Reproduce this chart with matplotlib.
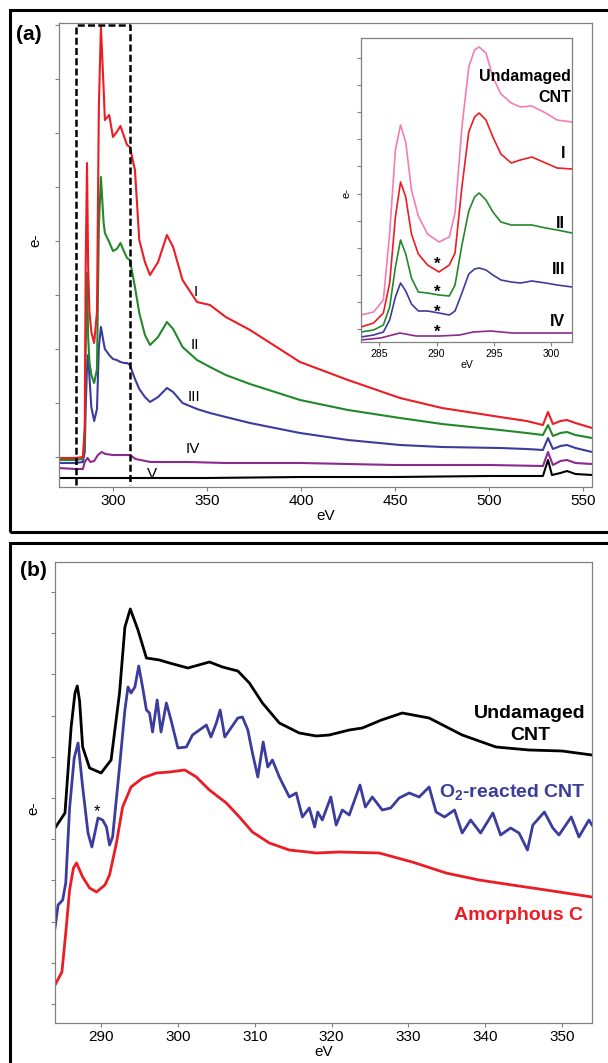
import matplotlib
matplotlib.use("Agg")
import matplotlib.pyplot as plt
from matplotlib.patches import Rectangle

plt.rcParams['font.family'] = ['Liberation Sans', 'DejaVu Sans']
plt.rcParams['mathtext.fontset'] = 'custom'
plt.rcParams['mathtext.rm'] = 'Liberation Sans'
plt.rcParams['mathtext.bf'] = 'Liberation Sans:bold'

# ---------------- Panel (a): main spectra ----------------
energy_a = [271, 280, 284, 285, 285.5, 286.2, 286.8, 287.5, 288.5, 290,
            291.5, 292.5, 293.6, 295, 295.7, 298, 300, 302, 304, 306,
            307.5, 309, 311.7, 314, 317, 319.7, 324, 328.7, 332, 337,
            344.7, 351.6, 360, 372.9, 399.5, 425, 452.7, 475, 505.9, 520,
            528.7, 531.4, 534, 538, 541.5, 546, 554.8]
sig_I = [29, 29, 30, 60, 220, 324, 220, 175, 155, 144,
         175, 380, 460, 400, 367, 372, 350, 355, 361, 350,
         342, 340, 317, 247, 225, 212, 225, 252, 240, 207,
         185, 182, 170, 157, 125, 107, 89, 79, 70, 66,
         62, 75, 63, 66, 67, 64, 59]
sig_II = [27, 27, 28, 45, 140, 214, 150, 125, 112, 104,
          118, 260, 310, 265, 254, 245, 236, 238, 244, 235,
          229, 227, 200, 174, 152, 142, 150, 165, 158, 140,
          127, 120, 112, 103, 87, 77, 69, 63, 57, 54,
          52, 62, 51, 54, 55, 52, 49]
sig_III = [24, 24, 25, 35, 80, 120, 132, 110, 80, 66,
           78, 140, 160, 145, 138, 132, 128, 127, 125, 124,
           124, 122, 108, 98, 90, 85, 90, 99, 95, 84,
           78, 74, 70, 64, 54, 47, 42, 40, 39, 38,
           37, 49, 38, 41, 42, 39, 35]
energy_IV = [271, 280, 284, 285, 286.5, 288, 290, 292, 294, 296, 300, 305, 309,
             312, 320, 340, 360, 400, 450, 500, 528.7, 531.4, 534, 538, 541.5,
             546, 554.8]
sig_IV = [19, 18, 18, 25, 29, 25, 26, 32, 35, 33, 32, 32, 32,
          28, 25, 25, 24, 24, 22, 22, 21, 35, 22, 26, 27,
          24, 23]
energy_V = [271, 300, 350, 400, 450, 500, 528.7, 531.4, 533.5, 538, 541.5, 546, 554.8]
sig_V = [9, 9, 9, 10, 10, 11, 11, 27, 12, 14, 16, 13, 12]

a_xticks = [300, 350, 400, 450, 500, 550]
a_labels = ['I', 'II', 'III', 'IV', 'V']

# ---------------- Panel (a): inset ----------------
energy_in = [283.4, 284.5, 285.35, 285.9, 286.4, 286.85, 287.3, 287.8, 288.4, 289.2,
             290.2, 291.1, 291.6, 292.2, 292.8, 293.3, 293.7, 294.3, 294.9, 295.6,
             296.5, 297.3, 298.3, 299.5, 300.5, 301.8]
in_undamaged = [27, 30, 42, 109, 192, 217, 200, 152, 126, 108,
                100, 105, 129, 215, 275, 292, 295, 289, 265, 248,
                239, 235, 236, 229, 222, 220]
in_I = [15, 19, 29, 59, 125, 160, 145, 108, 88, 77,
        70, 77, 89, 155, 210, 225, 229, 222, 205, 188,
        179, 182, 185, 179, 174, 173]
in_II = [10, 12, 17, 35, 75, 102, 88, 64, 50, 49,
         47, 46, 57, 97, 131, 145, 149, 142, 130, 120,
         117, 117, 117, 114, 112, 109]
in_III = [5, 7, 10, 22, 45, 59, 51, 38, 31, 31,
          29, 27, 31, 49, 68, 73, 74, 72, 67, 62,
          60, 59, 61, 59, 57, 55]
energy_in_IV = [283.4, 285.1, 286.8, 288.2, 290.3, 292.0, 293.2, 294.7, 296.6, 298.9, 301.8]
in_IV = [2, 4, 9, 6, 6, 7, 10, 11, 9, 9, 9]
in_xticks = [285, 290, 295, 300]

# ---------------- Panel (b) ----------------
energy_cnt = [284.0, 285.3, 286.1, 286.6, 286.9, 287.2, 287.6, 288.5, 290.0, 291.3,
              292.4, 293.1, 293.8, 294.8, 295.9, 297.6, 298.9, 301.3, 304.1, 305.8,
              307.8, 309.3, 311.0, 313.2, 315.8, 318.0, 319.7, 322.3, 324.0, 326.5,
              329.2, 332.7, 337.0, 341.4, 345.7, 350.0, 353.9]
sig_cnt = [195, 210, 296, 330, 337, 322, 276, 255, 250, 263,
           330, 396, 414, 393, 365, 363, 360, 355, 361, 356,
           352, 340, 320, 300, 290, 287, 288, 293, 295, 303,
           310, 305, 288, 276, 273, 272, 268]
energy_o2 = [284.0, 284.4, 285.0, 285.4, 285.9, 286.5, 287.0, 287.6, 288.3, 288.8,
             289.6, 290.2, 290.7, 291.1, 291.5, 292.4, 293.1, 293.5, 293.9, 294.4,
             294.9, 295.4, 295.9, 296.3, 296.7, 297.3, 297.8, 298.5, 299.1, 300.0,
             301.1, 301.9, 302.8, 303.7, 304.3, 305.0, 305.5, 306.1, 306.9, 307.8,
             308.4, 309.1, 309.7, 310.4, 311.1, 311.7, 312.3, 313.2, 314.5, 315.4,
             316.2, 317.1, 317.8, 318.2, 318.8, 319.9, 320.6, 321.4, 322.3, 323.7,
             324.4, 325.3, 326.6, 327.7, 328.8, 330.1, 331.4, 332.7, 333.6, 334.7,
             336.0, 337.0, 338.1, 339.4, 341.0, 342.0, 343.3, 344.4, 345.5, 346.2,
             347.7, 348.8, 349.6, 351.2, 352.2, 353.5, 353.9]
sig_o2 = [95, 118, 123, 140, 215, 265, 280, 236, 190, 176,
          205, 203, 196, 178, 186, 256, 313, 336, 330, 336,
          357, 336, 313, 310, 291, 323, 291, 320, 303, 275,
          276, 288, 293, 298, 286, 300, 313, 286, 295, 305,
          306, 293, 270, 246, 281, 256, 263, 246, 226, 230,
          206, 215, 196, 211, 203, 226, 198, 213, 208, 238,
          216, 226, 213, 215, 225, 230, 226, 236, 211, 206,
          213, 190, 203, 190, 210, 188, 195, 190, 173, 198,
          211, 195, 188, 206, 186, 203, 198]
energy_am = [284.0, 284.9, 285.4, 285.9, 286.4, 286.8, 287.6, 288.5, 289.4, 290.5,
             291.1, 292.0, 292.8, 293.9, 295.4, 297.2, 298.9, 300.9, 302.4, 304.1,
             306.3, 308.0, 309.7, 311.9, 314.5, 318.0, 321.0, 326.2, 330.5, 334.9,
             339.2, 343.5, 347.9, 353.9]
sig_am = [38, 51, 90, 133, 155, 160, 146, 135, 131, 138,
          148, 180, 216, 236, 245, 250, 251, 253, 246, 233,
          220, 206, 191, 180, 173, 170, 171, 170, 161, 150,
          143, 138, 133, 126]
b_xticks = [290, 300, 310, 320, 330, 340, 350]

# colours
C_RED = '#ec1c24'
C_GREEN = '#23882a'
C_BLUE = '#3c3c9e'
C_PURPLE = '#8a2a8c'
C_PINK = '#f47cb4'
C_SPINE = '#808080'

W, H = 608, 1063
fig = plt.figure(figsize=(W / 100, H / 100), dpi=100)


def rect(l, t, r, b):
    return [l / W, 1 - b / H, (r - l) / W, (b - t) / H]


def style(ax, size):
    for s in ax.spines.values():
        s.set_color(C_SPINE)
        s.set_linewidth(0.9)
    ax.tick_params(direction='out', length=3, width=0.8, color=C_SPINE,
                   labelsize=size, pad=2)
    ax.tick_params(axis='y', labelleft=False)


# panel frames
fig.patches.append(Rectangle((10 / W, 1 - 532 / H), 620 / W, 522 / H, fill=False,
                             lw=2.2, ec='black', transform=fig.transFigure))
fig.patches.append(Rectangle((10 / W, -0.05), 620 / W, 1 - 543 / H + 0.05, fill=False,
                             lw=2.2, ec='black', transform=fig.transFigure))

# ---- panel (a) main
ax = fig.add_axes(rect(59, 23, 592, 487))
ax.plot(energy_V, sig_V, color='black', lw=1.5)
ax.plot(energy_IV, sig_IV, color=C_PURPLE, lw=1.5)
ax.plot(energy_a, sig_III, color=C_BLUE, lw=1.5)
ax.plot(energy_a, sig_II, color=C_GREEN, lw=1.5)
ax.plot(energy_a, sig_I, color=C_RED, lw=1.5)
ax.set_xlim(271.3, 554.8)
ax.set_ylim(0, 464)
ax.set_xticks(a_xticks)
ax.set_yticks([30 + 54 * k for k in range(9)])
style(ax, 11)
ax.set_xlabel('eV', fontsize=11, labelpad=1)
box_x0, box_x1, box_y0, box_y1 = 280.3, 309.0, 2, 462
ax.plot([box_x0, box_x0, box_x1, box_x1], [box_y0, box_y1, box_y1, box_y0],
        color='black', lw=1.8, ls=(0, (2.8, 1.3)), clip_on=False)
label_pos_a = [(344.1, 195), (343.6, 142), (343.1, 90), (342.6, 38), (320.7, 13)]
for lab, (lx, ly) in zip(a_labels, label_pos_a):
    ax.text(lx, ly, lab, fontsize=11, ha='center', va='center')
fig.text(35 / W, 1 - 240 / H, 'e-', rotation=90, fontsize=11, ha='center', va='center')
fig.text(29 / W, 1 - 34 / H, '(a)', fontsize=15, fontweight='bold', ha='center', va='center')

# ---- inset
ai = fig.add_axes(rect(361, 38, 572, 342))
ai.plot(energy_in_IV, in_IV, color=C_PURPLE, lw=1.2)
ai.plot(energy_in, in_III, color=C_BLUE, lw=1.2)
ai.plot(energy_in, in_II, color=C_GREEN, lw=1.2)
ai.plot(energy_in, in_I, color=C_RED, lw=1.2)
ai.plot(energy_in, in_undamaged, color=C_PINK, lw=1.2)
ai.set_xlim(283.4, 301.8)
ai.set_ylim(0, 304)
ai.set_xticks(in_xticks)
ai.set_yticks([13 + 27.1 * k for k in range(11)])
style(ai, 7.5)
ai.set_xlabel('eV', fontsize=7.5, labelpad=1)
fig.text(347 / W, 1 - 193 / H, 'e-', rotation=90, fontsize=8, ha='center', va='center')
ai.text(301.7, 265, 'Undamaged', fontsize=11.5, fontweight='bold', ha='right', va='center')
ai.text(301.7, 245, 'CNT', fontsize=11.5, fontweight='bold', ha='right', va='center')
for lab, ly in zip(['I', 'II', 'III', 'IV'], [189, 119, 72, 21]):
    ai.text(301.2, ly, lab, fontsize=11.5, fontweight='bold', ha='right', va='center')
for ly in [82, 54, 34, 14]:
    ai.text(290.0, ly - 4, '*', fontsize=12, fontweight='bold', ha='center', va='center')

# ---- panel (b)
bx = fig.add_axes(rect(55, 562, 592, 1023))
bx.plot(energy_am, sig_am, color=C_RED, lw=2.0)
bx.plot(energy_o2, sig_o2, color=C_BLUE, lw=2.0)
bx.plot(energy_cnt, sig_cnt, color='black', lw=2.0)
bx.set_xlim(284.0, 353.9)
bx.set_ylim(0, 461)
bx.set_xticks(b_xticks)
bx.set_yticks([19 + 41.2 * k for k in range(11)])
style(bx, 11)
bx.set_xlabel('eV', fontsize=11, labelpad=1)
bx.text(345.85, 310, 'Undamaged', fontsize=14, fontweight='bold', ha='center', va='center')
bx.text(345.85, 288, 'CNT', fontsize=14, fontweight='bold', ha='center', va='center')
bx.text(353.1, 230, r'O$_\mathbf{2}$-reacted CNT', fontsize=14, fontweight='bold',
        color=C_BLUE, ha='right', va='center')
bx.text(352.7, 108, 'Amorphous C', fontsize=14, fontweight='bold', color=C_RED,
        ha='right', va='center')
bx.text(289.5, 211, '*', fontsize=12, ha='center', va='center')
fig.text(33 / W, 1 - 808 / H, 'e-', rotation=90, fontsize=11, ha='center', va='center')
fig.text(33 / W, 1 - 570 / H, '(b)', fontsize=15, fontweight='bold', ha='center', va='center')

fig.savefig('out.png', dpi=100)
